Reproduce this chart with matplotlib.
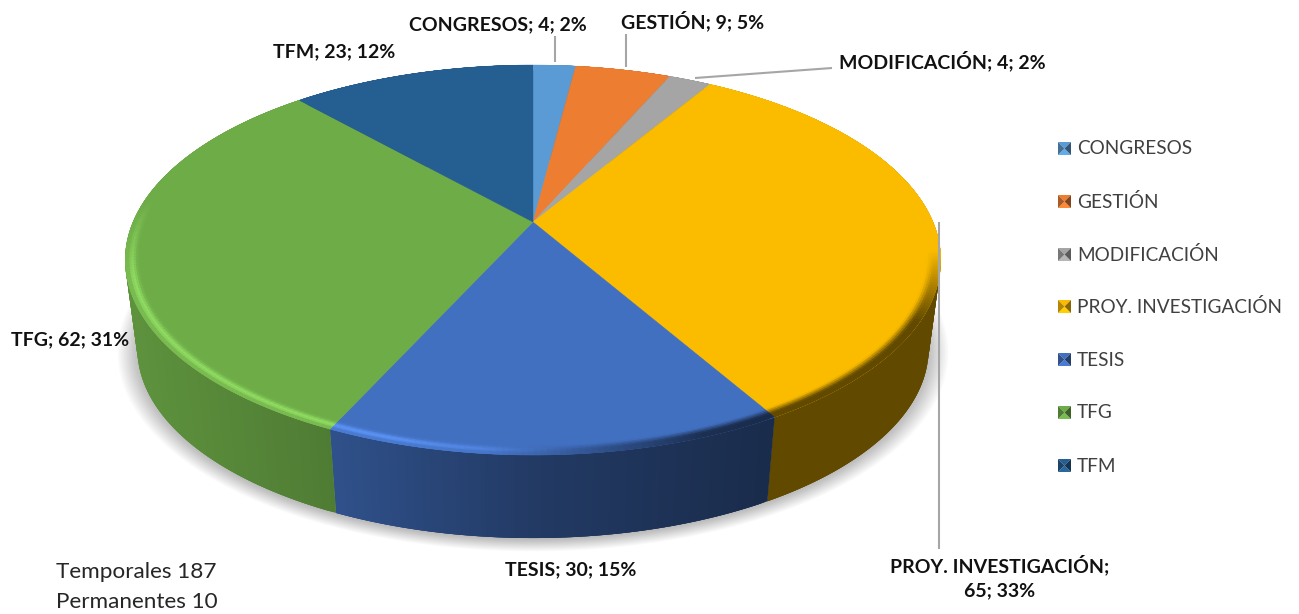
import numpy as np
import matplotlib
matplotlib.use("Agg")
import matplotlib.pyplot as plt
from matplotlib.collections import PolyCollection
from matplotlib.patches import Polygon

categories = ["CONGRESOS", "GESTIÓN", "MODIFICACIÓN", "PROY. INVESTIGACIÓN", "TESIS", "TFG", "TFM"]
values = [4, 9, 4, 65, 30, 62, 23]
colors = ["#5B9BD5", "#ED7D31", "#A5A5A5", "#FBBC00", "#4270C1", "#6EAC48", "#255E91"]
notes = ["Temporales 187", "Permanentes 10"]

W, H = 1299, 614
FONT = "Lato"
CX, CY, A, B, K = 533.0, 222.0, 400.0, 187.6, 0.195
DEPTH, BSCALE = 90.0, 0.97

fig = plt.figure(figsize=(W / 100, H / 100), dpi=100)
ax = fig.add_axes([0, 0, 1, 1])
ax.set_xlim(0, W)
ax.set_ylim(H, 0)
ax.axis("off")


def proj(t, r=1.0, scale=1.0, dy=0.0):
    x, y = r * np.sin(t), r * np.cos(t)
    d = 1 + K * y
    return CX + A * x / d * scale, CY + dy - B * y / d * scale


def rgb(h):
    return np.array(matplotlib.colors.to_rgb(h))


def side_factor(x):
    return np.interp(x, [125, 337, 533, 767, 940], [0.86, 0.72, 0.52, 0.39, 0.39])


total = sum(values)
edges = 2 * np.pi * np.concatenate([[0], np.cumsum(values)]) / total

# soft shadow under the pie
tt = np.linspace(0, 2 * np.pi, 361)
for s in np.linspace(1.05, 0.99, 16):
    px, py = proj(tt, scale=BSCALE * s, dy=DEPTH + 2)
    ax.add_patch(Polygon(np.c_[px, py], closed=True, fc="#000000", ec="none", alpha=0.02, zorder=1))

# side wall: overlapping strips, painted in order, so no seams appear
quads, fcs = [], []
for i, c in enumerate(colors):
    n = max(2, int(np.degrees(edges[i + 1] - edges[i]) / 0.5))
    ts = np.linspace(edges[i], edges[i + 1], n + 1)
    x1, y1 = proj(ts)
    x2, y2 = proj(ts, scale=BSCALE, dy=DEPTH)
    for j in range(n):
        e = min(j + 3, n)
        quads.append([(x1[j], y1[j]), (x1[e], y1[e]), (x2[e], y2[e]), (x2[j], y2[j])])
        fcs.append(rgb(c) * side_factor(0.5 * (x2[j] + x2[j + 1])))
ax.add_collection(PolyCollection(quads, facecolors=fcs, edgecolors="none", zorder=2))

# top face
for i, c in enumerate(colors):
    n = max(2, int(np.degrees(edges[i + 1] - edges[i])))
    ts = np.linspace(edges[i], edges[i + 1], n + 1)
    px, py = proj(ts)
    ax.add_patch(Polygon(np.r_[[[CX, CY]], np.c_[px, py]], closed=True, fc=c, ec=c, lw=0.3, zorder=3))

# bevelled rim
quads, fcs = [], []
rs = np.linspace(0.96, 1.0, 9)
for i, c in enumerate(colors):
    base = rgb(c)
    n = max(2, int(np.degrees(edges[i + 1] - edges[i]) / 0.75))
    ts = np.linspace(edges[i], edges[i + 1], n + 1)
    for j in range(n):
        tm = 0.5 * (ts[j] + ts[j + 1])
        e = min(j + 3, n)
        w = np.clip((0.12 - np.cos(tm)) * 2.5, 0, 1)
        mix = np.clip((np.sin(tm) + 0.1) / 0.45, 0, 1) * np.clip((-np.cos(tm) - 0.15) * 3, 0, 1)
        hl = w * np.clip((0.15 - np.sin(tm)) / 0.45, 0, 1)
        xm = proj(tm)[0]
        for q in range(len(rs) - 1):
            u = (q + 0.5) / (len(rs) - 1)
            bump = np.exp(-((u - 0.7) / 0.22) ** 2)
            light = base * (1 + 0.22 * hl * bump) + 0.04 * hl * bump
            dark = base + (base * side_factor(xm) - base) * np.clip(u * 2.2 - 0.6, 0, 1)
            col = np.clip((1 - mix) * light + mix * dark, 0, 1)
            r0 = rs[max(q - 1, 0)]
            xa, ya = proj(ts[j], r0)
            xb, yb = proj(ts[e], r0)
            xc, yc = proj(ts[e], rs[q + 1])
            xd, yd = proj(ts[j], rs[q + 1])
            quads.append([(xa, ya), (xb, yb), (xc, yc), (xd, yd)])
            fcs.append(col)
ax.add_collection(PolyCollection(quads, facecolors=fcs, edgecolors="none", zorder=4))

# leader lines
leaders = {
    "CONGRESOS": [(555, 36), (555, 62)],
    "GESTIÓN": [(626, 34), (626, 67)],
    "MODIFICACIÓN": [(695, 78), (832, 68)],
    "PROY. INVESTIGACIÓN": [(939, 222), (939, 549)],
}
for pts in leaders.values():
    ax.plot(*zip(*pts), color="#A6A6A6", lw=1.5, zorder=5, solid_capstyle="butt")

# data labels
pos = {
    "CONGRESOS": (498, 25),
    "GESTIÓN": (693, 21),
    "MODIFICACIÓN": (942, 61),
    "PROY. INVESTIGACIÓN": (1000, 577),
    "TESIS": (571, 570),
    "TFG": (70, 340),
    "TFM": (334, 52),
}
for name, v in zip(categories, values):
    s = f"{name}; {v}; {round(v / total * 100)}%"
    if name.startswith("PROY"):
        s = f"{name};\n{v}; {round(v / total * 100)}%"
    ax.text(*pos[name], s, family=FONT, fontsize=14.0, fontweight="bold", color="#111111",
            ha="center", va="center", linespacing=1.55, zorder=6)

# legend
ly = [148, 201, 254, 306, 359, 412, 465]
for name, c, y in zip(categories, colors, ly):
    base = rgb(c)
    x0, x1, y0, y1 = 1058, 1071, y - 6, y + 7
    xc, yc = (x0 + x1) / 2, (y0 + y1) / 2
    tris = [
        ([(x0, y0), (x1, y0), (xc, yc)], base * 1.0),
        ([(x0, y1), (x1, y1), (xc, yc)], np.clip(base * 1.1, 0, 1)),
        ([(x0, y0), (x0, y1), (xc, yc)], base * 0.72),
        ([(x1, y0), (x1, y1), (xc, yc)], base * 0.55),
    ]
    for pts, col in tris:
        ax.add_patch(Polygon(pts, closed=True, fc=col, ec="none", zorder=5))
    ax.text(1077, y + 1, name, family=FONT, fontsize=13.7, color="#404040", ha="left", va="center")

# side notes
for t, y in zip(notes, [572, 602]):
    ax.text(56, y, t, family=FONT, fontsize=16.2, color="#262626", ha="left", va="center")

fig.savefig("out.png", dpi=100, facecolor="white")
